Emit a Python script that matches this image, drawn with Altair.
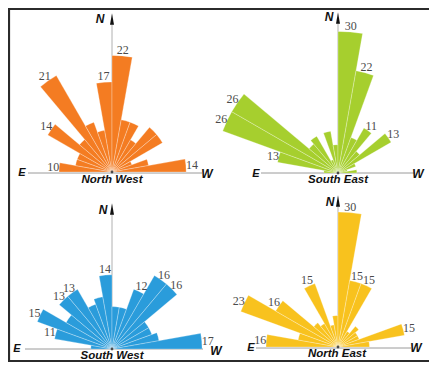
import math
import altair as alt
import pandas as pd

# ---- data -------------------------------------------------------------
sector_start = [0, 10, 20, 30, 40, 50, 60, 70, 80, 90, 100, 110, 120, 130, 140, 150, 160, 170]
sector_width = 10

nw_values = [10, 7, 7, 14, 8, 21, 10, 8, 17, 22, 10, 10, 7, 11, 11, 4, 7, 14]
nw_labeled = [1, 0, 0, 1, 0, 1, 0, 0, 1, 1, 0, 0, 0, 0, 0, 0, 0, 1]
se_values = [3, 13, 26, 26, 8, 9, 3, 9, 6, 30, 22, 8, 11, 6, 13, 4, 2, 4]
se_labeled = [0, 1, 1, 1, 0, 0, 0, 0, 0, 1, 1, 0, 1, 0, 1, 0, 0, 0]
sw_values = [4, 11, 15, 10, 13, 13, 9, 10, 14, 8, 8, 12, 16, 16, 8, 8, 9, 17]
sw_labeled = [0, 1, 1, 0, 1, 1, 0, 0, 1, 0, 0, 1, 1, 1, 0, 0, 0, 1]
ne_values = [16, 9, 23, 16, 7, 6, 15, 5, 7, 30, 15, 15, 4, 6, 5, 5, 15, 7]
ne_labeled = [1, 0, 1, 1, 0, 0, 1, 0, 0, 1, 1, 1, 0, 0, 0, 0, 1, 0]

panel_titles = ["North West", "South East", "South West", "North East"]

# ---- layout -----------------------------------------------------------
W, H = 421, 355
panels = [
    dict(title=panel_titles[0], values=nw_values, labeled=nw_labeled, color="#F47C22",
         cx=104, cy=164, ppu=5.3, hx=(20, 194), hy=165, top=16, arrow=11,
         n=(92, 11), e=(14, 165), w=(199, 166), t=(104, 172)),
    dict(title=panel_titles[1], values=se_values, labeled=se_labeled, color="#A6CF2E",
         cx=330, cy=165, ppu=4.72, hx=(253, 407), hy=165, top=15, arrow=10,
         n=(321, 9), e=(248, 166), w=(410, 166), t=(330, 172)),
    dict(title=panel_titles[2], values=sw_values, labeled=sw_labeled, color="#2A9CDB",
         cx=104, cy=341, ppu=5.3, hx=(17, 195), hy=341, top=206, arrow=201,
         n=(95, 202), e=(9, 341), w=(208, 343), t=(104, 348)),
    dict(title=panel_titles[3], values=ne_values, labeled=ne_labeled, color="#F8C21E",
         cx=330, cy=339, ppu=4.5, hx=(248, 403), hy=340, top=198, arrow=193,
         n=(322, 194), e=(243, 340), w=(408, 340), t=(329, 346)),
]

theta_scale = alt.Scale(type="linear", domain=[0, 180],
                        range=[1.5 * math.pi, 2.5 * math.pi])

bold_it = dict(font="Liberation Sans", fontWeight="bold", fontStyle="italic",
               color="#111111")

one = pd.DataFrame({"k": [0]})

layers = []
for p in panels:
    df = pd.DataFrame({
        "a0": sector_start,
        "a1": [s + sector_width for s in sector_start],
        "am": [s + sector_width / 2 for s in sector_start],
        "v": p["values"],
        "lab": p["labeled"],
    })
    rscale = alt.Scale(type="linear", domain=[0, 30], range=[0, 30 * p["ppu"]])
    cx, cy = p["cx"], p["cy"]

    # axes lines
    layers.append(alt.Chart(one).mark_rule(color="#9a9a9a", strokeWidth=1).encode(
        x=alt.value(p["hx"][0]), x2=alt.value(p["hx"][1]), y=alt.value(p["hy"])))
    layers.append(alt.Chart(one).mark_rule(color="#b0b0b0", strokeWidth=1).encode(
        x=alt.value(cx), y=alt.value(p["top"]), y2=alt.value(cy)))

    arcs = alt.Chart(df).mark_arc(x=cx, y=cy, stroke="#ffffff", strokeWidth=0.5,
                                  strokeOpacity=0.55, color=p["color"]).encode(
        theta=alt.Theta("a0:Q", scale=theta_scale, stack=False),
        theta2="a1:Q",
        radius=alt.Radius("v:Q", scale=rscale),
    )
    layers.append(arcs)

    labels = alt.Chart(df[df["lab"] == 1]).mark_text(
        x=cx, y=cy, radiusOffset=6, font="Liberation Serif", fontSize=12,
        color="#4a4a4a").encode(
        theta=alt.Theta("am:Q", scale=theta_scale, stack=False),
        radius=alt.Radius("v:Q", scale=rscale),
        text="v:Q",
    )
    layers.append(labels)

    # arrow + center dot
    layers.append(alt.Chart(one).mark_point(
        shape="M0,-1L0.35,1L-0.35,1Z", filled=True, color="#111111",
        size=130, opacity=1).encode(x=alt.value(cx), y=alt.value(p["arrow"])))
    layers.append(alt.Chart(one).mark_point(
        shape="circle", filled=True, color="#222222", size=8, opacity=0.8).encode(
        x=alt.value(cx), y=alt.value(cy)))

    # compass letters and title
    layers.append(alt.Chart(one).mark_text(text="N", fontSize=12, **bold_it).encode(
        x=alt.value(p["n"][0]), y=alt.value(p["n"][1])))
    layers.append(alt.Chart(one).mark_text(text="E", fontSize=11, **bold_it).encode(
        x=alt.value(p["e"][0]), y=alt.value(p["e"][1])))
    layers.append(alt.Chart(one).mark_text(text="W", fontSize=12, **bold_it).encode(
        x=alt.value(p["w"][0]), y=alt.value(p["w"][1])))
    layers.append(alt.Chart(one).mark_text(text=p["title"], fontSize=11.5, **bold_it).encode(
        x=alt.value(p["t"][0]), y=alt.value(p["t"][1])))

# frame (left, top, bottom; right edge lies outside the picture)
layers.append(alt.Chart(one).mark_rule(color="#2b2b2b", strokeWidth=2.2).encode(
    x=alt.value(0), x2=alt.value(W), y=alt.value(1)))
layers.append(alt.Chart(one).mark_rule(color="#2b2b2b", strokeWidth=2.2).encode(
    x=alt.value(1), y=alt.value(0), y2=alt.value(H - 1)))
layers.append(alt.Chart(one).mark_rule(color="#2b2b2b", strokeWidth=2.2).encode(
    x=alt.value(0), x2=alt.value(W), y=alt.value(H - 2)))

chart = alt.layer(*layers).resolve_scale(radius="independent").properties(
    width=W, height=H, padding=0,
    autosize=alt.AutoSizeParams(type="none"),
).configure_view(stroke=None)

chart.save("out.html", embed_options={"renderer": "svg", "actions": False})
